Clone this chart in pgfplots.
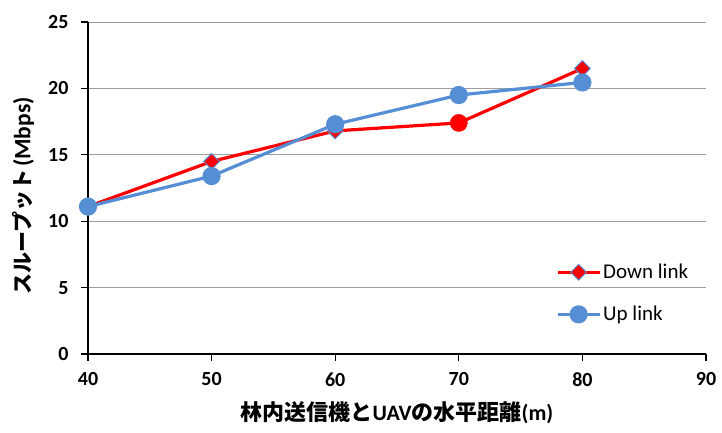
\documentclass[border=0pt]{standalone}
\usepackage{pgfplots}
\pgfplotsset{compat=1.18}
\usepackage{fontspec}
\setmainfont{Carlito}
\newfontfamily\cjk{Noto Sans CJK JP}
\definecolor{dred}{RGB}{255,0,0}
\definecolor{ublue}{RGB}{86,142,213}
\begin{document}
\begin{tikzpicture}
\begin{axis}[name=ax, scale only axis, width=618pt, height=332pt,
 xmin=40, xmax=90, ymin=0, ymax=25,
 xtick={40,50,...,90}, ytick={0,5,...,25},
 axis x line=bottom, axis y line=left,
 axis line style={black, line width=1.6pt, -},
 ymajorgrids, grid style={black!38, line width=1pt},
 tick align=outside, major tick length=7pt, tick style={black, line width=1.3pt},
 ticklabel style={font=\fontsize{20}{20}\selectfont\bfseries},
 xticklabel style={yshift=-8pt},
 yticklabel style={xshift=-9pt},
 /pgf/number format/assume math mode=true,
 xlabel={\fontsize{22}{22}\selectfont\bfseries{\cjk 林内送信機と}UAV{\cjk の水平距離}(m)},
 ylabel={\fontsize{21}{21}\selectfont\bfseries{\cjk スループット}\kern3pt{\fontsize{23.5}{23.5}\selectfont(Mbps)}},
 xlabel style={at={(axis description cs:0.5,-0.176)}, anchor=center},
 ylabel style={at={(axis description cs:-0.105,0.476)}, anchor=center},
 legend style={at={(axis description cs:0.757,0.277)}, anchor=north west, draw=none, fill=none,
   font=\fontsize{21}{21}\selectfont, row sep=22pt, inner sep=0pt},
 legend cell align=left,
 legend image code/.code={\draw[mark repeat=2, mark phase=2] plot coordinates {(0pt,0pt)(21pt,0pt)(42pt,0pt)};},
]
\addplot[dred, line width=3.2pt, mark=square*, mark size=5.6pt,
  mark options={rotate=45, fill=dred, draw=ublue, line width=0.9pt}]
  coordinates {(40,11.1) (50,14.5) (60,16.8) (70,17.4) (80,21.5)};
\addlegendentry{Down link}
\addplot[forget plot, only marks, mark=*, mark size=8.6pt, mark options={fill=dred, draw=dred}]
  coordinates {(70,17.4)};
\addplot[ublue, line width=3.2pt, mark=*, mark size=7.5pt,
  mark options={fill=ublue, draw=ublue}]
  coordinates {(40,11.1) (50,13.4) (60,17.3) (70,19.5) (80,20.45)};
\addlegendentry{Up link}
\end{axis}
\path (ax.south west) ++(-88pt,-78pt) rectangle ++(722pt,432pt);
\end{tikzpicture}
\end{document}
